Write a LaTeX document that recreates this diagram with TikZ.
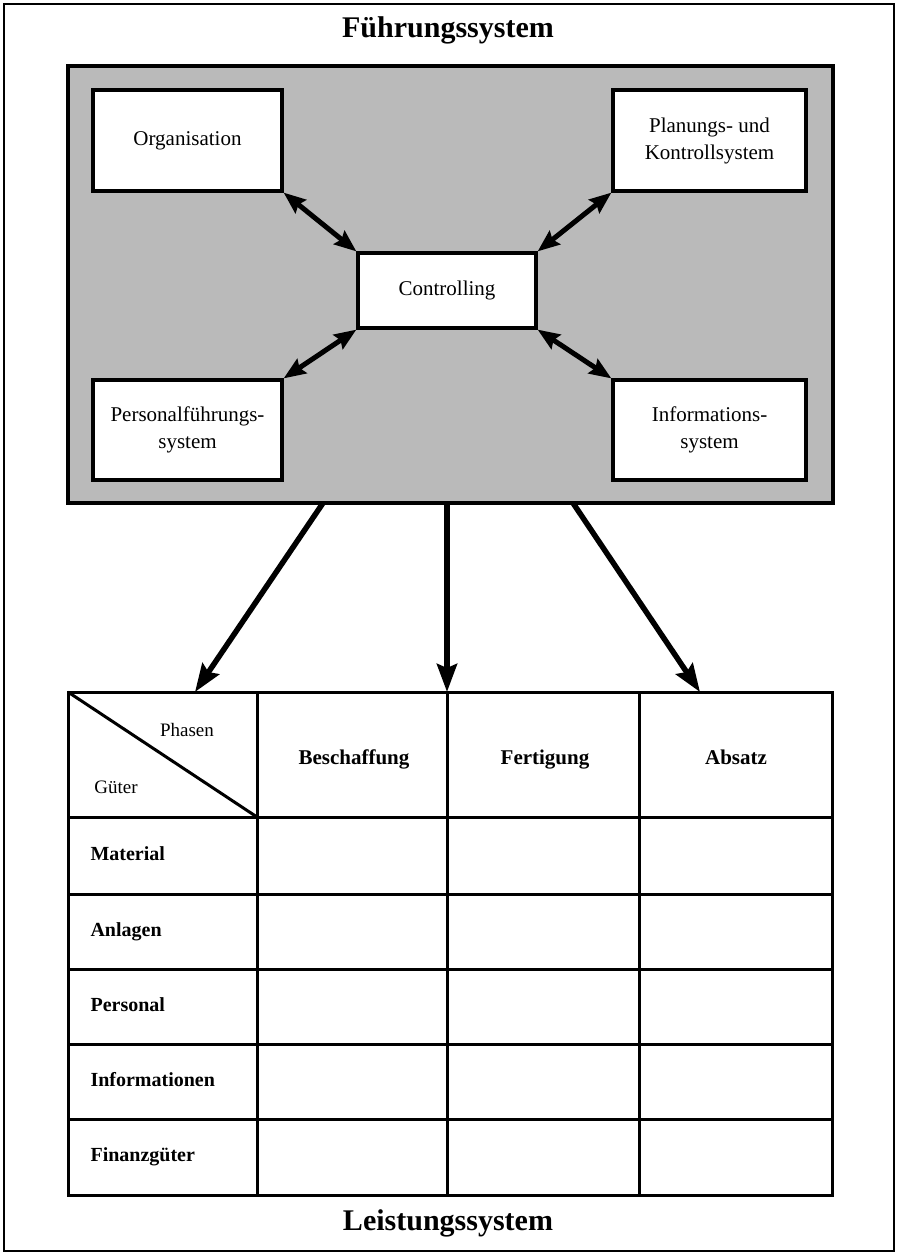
\documentclass[tikz,border=0pt]{standalone}
\usepackage{fontspec}
\setmainfont{Liberation Serif}
\usetikzlibrary{
  arrows.meta % Pfeilspitzen
}

\begin{document}
\begin{tikzpicture}[
    x=1pt, y=-1pt, % Pixelraster, y nach unten
    >=Stealth,
    kasten/.style={draw, line width=3.2pt, fill=white, inner sep=0pt, align=center,
      font=\fontsize{21}{27}\selectfont},
    doppelpfeil/.style={line width=5pt,
      {Stealth[length=22pt,width=17pt,inset=3pt]}-{Stealth[length=22pt,width=17pt,inset=3pt]}},
    pfeil/.style={line width=5.5pt, -{Stealth[length=28pt,width=20pt,inset=4pt]}},
    titel/.style={font=\bfseries\fontsize{30}{34}\selectfont},
    kopf/.style={font=\bfseries\fontsize{21}{24}\selectfont, text height=14pt, text depth=5pt},
    zeile/.style={anchor=west, font=\bfseries\fontsize{20}{24}\selectfont,
      text height=14pt, text depth=5pt},
    achse/.style={font=\fontsize{19}{22}\selectfont},
    gitter/.style={line width=3pt, line cap=rect},
  ]
  \useasboundingbox (0,0) rectangle (897,1254);
  % Rahmen
  \draw[line width=2.4pt] (4,4) rectangle (894,1251);
  \node[titel] (fs) at (448,30) {Führungssystem};
  \node[titel] (ls) at (448,1223) {Leistungssystem};

  % Führungssystem
  \node[draw, line width=3.2pt, fill=black!27, minimum width=765, minimum height=437]
    (fuehrung) at (450.5,284.5) {};
  \node[kasten, minimum width=189, minimum height=101] (org) at (187.5,140.5) {Organisation};
  \node[kasten, minimum width=193, minimum height=101] (plan) at (709.5,140.5)
    {Planungs- und\\Kontrollsystem};
  \node[kasten, minimum width=189, minimum height=100] (pers) at (187.5,430)
    {Personalführungs-\\system};
  \node[kasten, minimum width=193, minimum height=100] (info) at (709.5,430)
    {Informations-\\system};
  \node[kasten, minimum width=178, minimum height=75] (ctrl) at (447,290.5) {Controlling};

  \draw[doppelpfeil] (org.south east) -- (ctrl.north west);
  \draw[doppelpfeil] (plan.south west) -- (ctrl.north east);
  \draw[doppelpfeil] (pers.north east) -- (ctrl.south west);
  \draw[doppelpfeil] (info.north west) -- (ctrl.south east);

  % Koordinaten der Pfeile
  \coordinate (s1) at (323,503);
  \coordinate (s2) at (447,503);
  \coordinate (s3) at (573,503);
  \coordinate (z1) at (195,692);
  \coordinate (z2) at (447,692);
  \coordinate (z3) at (700,692);
  \foreach \i in {1,2,3}
    \draw[pfeil] (s\i) -- (z\i);

  % Leistungssystem
  \foreach \x in {68,257,447,639,832}
    \draw[gitter] (\x,692) -- (\x,1195);
  \foreach \y in {692,817,894,969,1044,1119,1195}
    \draw[gitter] (68,\y) -- (832,\y);
  \draw[gitter, line cap=butt] (68,692) -- (257,817);

  \node[achse] (phasen) at (187,730) {Phasen};
  \node[achse] (gueter) at (116,787) {Güter};
  \node[kopf] (p1) at (354,760) {Beschaffung};
  \node[kopf] (p2) at (545,760) {Fertigung};
  \node[kopf] (p3) at (736,760) {Absatz};
  \foreach \name/\y [count=\i] in {Material/855.5, Anlagen/931.5, Personal/1006.5,
      Informationen/1081.5, Finanzgüter/1157}
    \node[zeile] (g\i) at (87,\y) {\name};

\end{tikzpicture}
\end{document}
